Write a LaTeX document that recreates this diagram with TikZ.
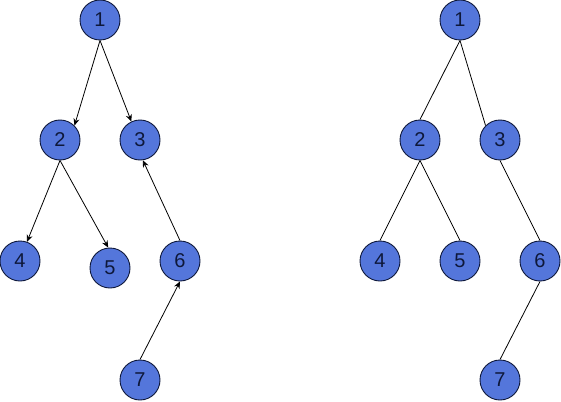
\documentclass[tikz,border=0pt]{standalone}
\usepackage{fontspec}
\setmainfont{Liberation Sans}
\usepackage{xcolor}
\usepackage{tikz}
\usetikzlibrary{arrows.meta, positioning}
\definecolor{nodeblue}{RGB}{84,118,219}
\definecolor{navy}{RGB}{14,24,58}

\begin{document}
\begin{tikzpicture}[x=1pt, y=-1pt, font=\fontsize{20}{22}\selectfont,
  vert/.style={circle, draw=navy, fill=nodeblue, text=navy, line width=0.9pt, minimum size=40pt, inner sep=0pt},
  edge/.style={line width=0.8pt, black}]
\useasboundingbox (0,0) rectangle (561,401);
% directed tree
\node (a1) [vert] at (100,20) {1};
\node (a2) [vert] at (60,140) {2};
\node (a3) [vert] at (140,140) {3};
\node (a4) [vert] at (20,261) {4};
\node (a5) [vert] at (110,268) {5};
\node (a6) [vert] at (180,261) {6};
\node (a7) [vert] at (140,380) {7};

\draw[edge, -{Stealth[length=7pt, width=6pt]}] (a1.south) -- (a2.north east);
\draw[edge, -{Stealth[length=7pt, width=6pt]}] (a1.south) -- (a3.115);
\draw[edge, -{Stealth[length=7pt, width=6pt]}] (a2.south) -- (a4.70);
\draw[edge, -{Stealth[length=7pt, width=6pt]}] (a2.south) -- (a5.95);
\draw[edge, -{Stealth[length=7pt, width=6pt]}] (a6.north) -- (a3.-82);
\draw[edge, -{Stealth[length=7pt, width=6pt]}] (a7.north) -- (a6.south);

% undirected tree
\node (b1) [vert] at (460,20) {1};
\node (b2) [vert] at (420,140) {2};
\node (b3) [vert] at (500,140) {3};
\node (b4) [vert] at (380,261) {4};
\node (b5) [vert] at (460,261) {5};
\node (b6) [vert] at (540,261) {6};
\node (b7) [vert] at (500,380) {7};

\draw[edge] (b1.south) -- (b2.north);
\draw[edge] (b1.south) -- (b3.north west);
\draw[edge] (b2.south) -- (b4.north);
\draw[edge] (b2.south) -- (b5.north);
\draw[edge] (b3.south) -- (b6.north);
\draw[edge] (b6.south) -- (b7.north);
\end{tikzpicture}
\end{document}
